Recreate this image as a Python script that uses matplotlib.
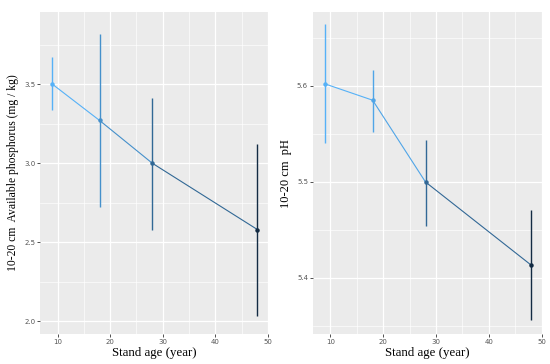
import matplotlib
matplotlib.use("Agg")
import matplotlib.pyplot as plt
import matplotlib.colors as mcolors
import numpy as np

age = [9, 18, 28, 48]
phos_mean = [3.50, 3.27, 3.00, 2.58]
phos_low = [3.335, 2.72, 2.58, 2.036]
phos_high = [3.673, 3.82, 3.413, 3.118]
ph_mean = [5.602, 5.585, 5.4997, 5.413]
ph_low = [5.540, 5.552, 5.454, 5.356]
ph_high = [5.664, 5.617, 5.544, 5.471]

cmap = mcolors.LinearSegmentedColormap.from_list("gg", ["#132B43", "#56B1F7"])

fig = plt.figure(figsize=(5.5, 3.64), dpi=100)

def panel(rect, mean, low, high, ylabel, ylsize, ylim, yticks, yminor):
    ax = fig.add_axes(rect)
    ax.set_facecolor("#EBEBEB")
    for s in ax.spines.values():
        s.set_visible(False)
    ax.set_xlim(6.7, 50.0)
    ax.set_ylim(*ylim)
    ax.set_xticks([10, 20, 30, 40, 50])
    ax.set_xticks([15, 25, 35, 45], minor=True)
    ax.set_yticks(yticks)
    ax.set_yticks(yminor, minor=True)
    ax.grid(True, which="major", color="white", lw=0.9)
    ax.grid(True, which="minor", color="white", lw=0.45)
    ax.set_axisbelow(True)
    ax.tick_params(which="major", length=2, width=0.6, color="#333333",
                   labelsize=5, labelcolor="#555555", pad=1.5)
    ax.tick_params(which="minor", length=0)
    norm = mcolors.Normalize(min(mean), max(mean))
    cols = [cmap(norm(m)) for m in mean]
    for i in range(len(age) - 1):
        ax.plot(age[i:i + 2], mean[i:i + 2], color=cols[i], lw=0.8, zorder=2)
    for i in range(len(age)):
        ax.plot([age[i], age[i]], [low[i], high[i]], color=cols[i], lw=1.0,
                zorder=3, solid_capstyle="butt")
        ax.plot(age[i], mean[i], "o", color=cols[i], ms=2.2, zorder=4)
    ax.set_xlabel("Stand age (year)", family="Liberation Serif", fontsize=9.3, labelpad=1.5)
    ax.set_ylabel(ylabel, family="Liberation Serif", fontsize=ylsize, labelpad=3.5)
    return ax

panel([0.073, 0.082, 0.414, 0.885], phos_mean, phos_low, phos_high,
      "10-20 cm  Available phosphorus (mg / kg)", 8.4, (1.918, 3.956),
      [2.0, 2.5, 3.0, 3.5], [2.25, 2.75, 3.25, 3.75])
panel([0.569, 0.082, 0.416, 0.885], ph_mean, ph_low, ph_high,
      "10-20 cm  pH", 9.0, (5.341, 5.677),
      [5.4, 5.5, 5.6], [5.35, 5.45, 5.55, 5.65])

fig.savefig("out.png", dpi=100)
